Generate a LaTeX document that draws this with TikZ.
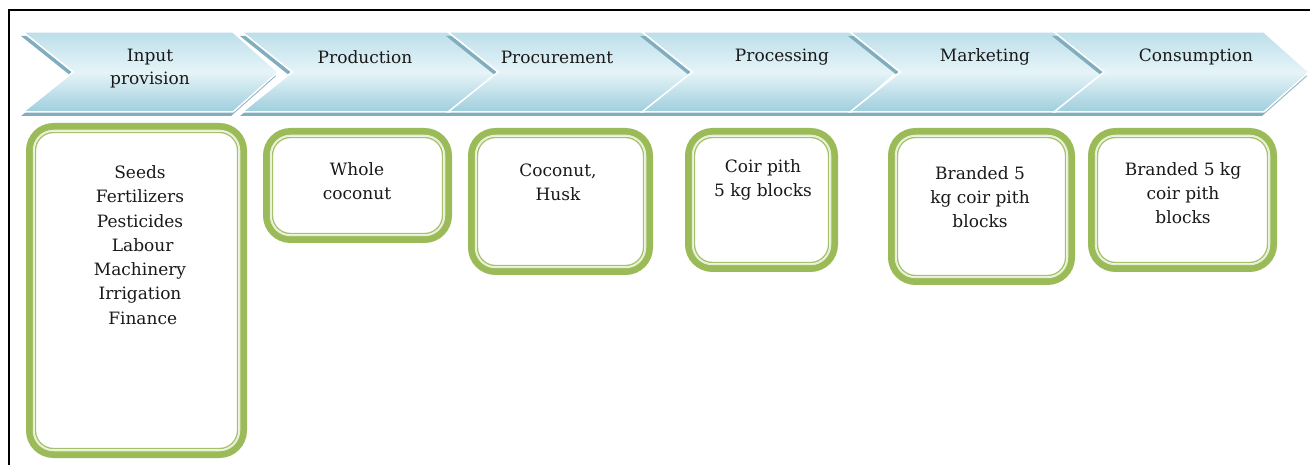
\documentclass[tikz,border=0pt]{standalone}
\usepackage{fontspec}
\setmainfont{DejaVu Serif}
\definecolor{chevtop}{HTML}{BCDFEA}
\definecolor{chevmid}{HTML}{E6F4F8}
\definecolor{chevbot}{HTML}{9ECEDC}
\definecolor{chevshadow}{HTML}{80AEBF}
\definecolor{boxgreen}{HTML}{9BBB59}
\definecolor{boxlight}{HTML}{E6EFD3}
\begin{document}
\begin{tikzpicture}[x=1pt,y=-1pt,
  chev/.style={top color=chevtop, bottom color=chevbot, middle color=chevmid, draw=white, line width=1.5pt},
  chevsh/.style={fill=chevshadow, draw=none},
  htxt/.style={font=\fontsize{17}{23}\selectfont, align=center, text=black!90, inner sep=0pt},
  btxt/.style={font=\fontsize{17}{24.3}\selectfont, align=center, text=black!90, inner sep=0pt},
  gout/.style={draw=boxgreen, line width=7pt, fill=white, rounded corners=24pt},
  glight/.style={draw=boxlight, line width=1.5pt, rounded corners=20pt},
  gin/.style={draw=boxgreen!90, line width=1.3pt, rounded corners=18pt},
  frameline/.style={draw=black, line width=2pt}
]
\useasboundingbox (0,0) rectangle (1310,465);
\fill[white] (0,0) rectangle (1310,465);

% frame
\coordinate (fl) at (9,465);
\coordinate (fc) at (9,10);
\coordinate (fr) at (1310,10);
\draw[frameline] (fl) -- (fc) -- (fr);

% chevrons
\newcommand\chevron[2]{% start x
  \fill[chevsh] (#1-2,36) -- (#1+208,36) -- (#1+253,76) -- (#1+208,116) -- (#1-2,116) -- (#1+48,76) -- cycle;
  \draw[chev] (#1,32) -- (#1+210,32) -- (#1+255,72) -- (#1+210,112) -- (#1,112) -- (#1+50,72) -- cycle;
}
\chevron{23}{}
\chevron{242}{}
\chevron{448}{}
\chevron{642}{}
\chevron{850}{}
\chevron{1054}{}

\node[htxt] (h1) at (150,69) {Input\\provision};
\node[htxt] (h2) at (365,57) {Production};
\node[htxt] (h3) at (557,57) {Procurement};
\node[htxt] (h4) at (782,57) {Processing};
\node[htxt] (h5) at (985,57) {Marketing};
\node[htxt] (h6) at (1196,57) {Consumption};

% green boxes
\newcommand\gbx[4]{% x1, y1, x2, y2
  \draw[gout] (#1+3.5,#2+3.5) rectangle (#3-3.5,#4-3.5);
  \draw[glight] (#1+7.5,#2+7.5) rectangle (#3-7.5,#4-7.5);
  \draw[gin] (#1+9.5,#2+9.5) rectangle (#3-9.5,#4-9.5);
}
\gbx{26}{123}{247}{458}
\gbx{263}{128}{452}{243}
\gbx{468}{128}{653}{275}
\gbx{685}{128}{838}{272}
\gbx{888}{128}{1075}{285}
\gbx{1088}{128}{1277}{272}

\node[btxt] (t1) at (140,245) {Seeds\\Fertilizers\\Pesticides\\\ Labour\\Machinery\\Irrigation\\\ Finance};
\node[btxt] (t2) at (357,181) {Whole\\coconut};
\node[btxt] (t3) at (558,182) {Coconut,\\Husk};
\node[btxt] (t4) at (763,180) {Coir pith\\5 kg blocks};
\node[btxt] (t5) at (980,197) {Branded 5\\kg coir pith\\blocks};
\node[btxt] (t6) at (1183,193) {Branded 5 kg\\coir pith\\blocks};
\end{tikzpicture}
\end{document}
